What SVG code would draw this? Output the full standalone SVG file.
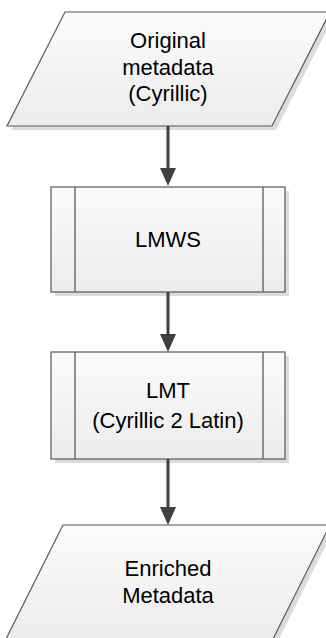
<svg xmlns="http://www.w3.org/2000/svg" width="326" height="638" viewBox="0 0 326 638">
  <style>
    .shape { stroke: #595959; stroke-width: 1.2; fill: url(#fillGrad); }
    .shadow { fill: #dcdcdc; stroke: none; }
    .bar { stroke: #6e6e6e; stroke-width: 1.5; fill: none; }
    .label { font-family: "Liberation Sans", Arial, sans-serif; font-size: 22px; fill: #000; text-anchor: middle; }
    .conn { stroke: #404040; stroke-width: 3; fill: none; }
    .head { fill: #404040; stroke: none; }
  </style>
  <defs>
    <linearGradient id="fillGrad" x1="0" y1="0" x2="0" y2="1">
      <stop offset="0" stop-color="#fbfbfb"/>
      <stop offset="1" stop-color="#ececec"/>
    </linearGradient>
  </defs>

  <!-- Input data -->
  <g id="original-metadata">
    <polygon class="shadow" points="69,16 334,16 276,130 11,130"/>
    <polygon class="shape" points="65,12 330,12 272,126 7,126"/>
    <text class="label" x="168" y="48">Original</text>
    <text class="label" x="168" y="75">metadata</text>
    <text class="label" x="168" y="101">(Cyrillic)</text>
  </g>

  <!-- Predefined process: LMWS -->
  <g id="lmws">
    <rect class="shadow" x="55" y="191" width="234" height="105"/>
    <rect class="shape" x="51" y="187" width="234" height="105"/>
    <line class="bar" x1="75" y1="187" x2="75" y2="292"/>
    <line class="bar" x1="263" y1="187" x2="263" y2="292"/>
    <text class="label" x="168" y="247">LMWS</text>
  </g>

  <!-- Predefined process: LMT -->
  <g id="lmt">
    <rect class="shadow" x="55" y="356" width="234" height="107"/>
    <rect class="shape" x="51" y="352" width="234" height="107"/>
    <line class="bar" x1="75" y1="352" x2="75" y2="459"/>
    <line class="bar" x1="263" y1="352" x2="263" y2="459"/>
    <text class="label" x="168" y="398">LMT</text>
    <text class="label" x="168" y="428">(Cyrillic 2 Latin)</text>
  </g>

  <!-- Output data -->
  <g id="enriched-metadata">
    <polygon class="shadow" points="67,529 334,529 276,645 9,645"/>
    <polygon class="shape" points="63,525 330,525 272,641 5,641"/>
    <text class="label" x="168" y="576">Enriched</text>
    <text class="label" x="168" y="603">Metadata</text>
  </g>

  <!-- Connectors -->
  <g id="connectors">
    <line class="conn" x1="168" y1="126" x2="168" y2="170"/>
    <polygon class="head" points="160,168 176,168 168,186"/>
    <line class="conn" x1="168" y1="292" x2="168" y2="336"/>
    <polygon class="head" points="160,334 176,334 168,352"/>
    <line class="conn" x1="168" y1="459" x2="168" y2="509"/>
    <polygon class="head" points="160,507 176,507 168,525"/>
  </g>
</svg>
